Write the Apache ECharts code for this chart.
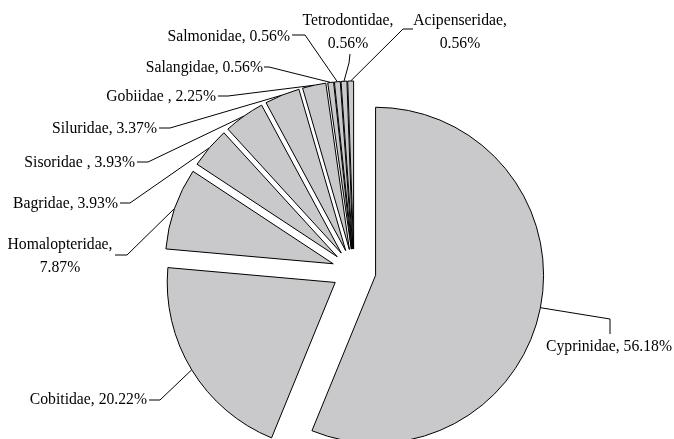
<!DOCTYPE html>
<html>
<head>
<meta charset="utf-8">
<script src="https://cdn.jsdelivr.net/npm/echarts@6/dist/echarts.min.js"></script>
<style>
  html, body { margin: 0; padding: 0; background: #fff; }
  #pie1 { width: 674px; height: 439px; }
</style>
</head>
<body>
<div id="pie1"></div>
<script>
// fish families, share of species (%)
const families = ['Cyprinidae', 'Cobitidae', 'Homalopteridae', 'Bagridae', 'Sisoridae ', 'Siluridae',
  'Gobiidae ', 'Salangidae', 'Salmonidae', 'Tetrodontidae', 'Acipenseridae']
const shares = [56.18, 20.22, 7.87, 3.93, 3.93, 3.37, 2.25, 0.56, 0.56, 0.56, 0.56]
// labels that break onto a second line
const wrapped = ['Homalopteridae', 'Tetrodontidae', 'Acipenseridae']

// where each label sits and how its leader bends (layout only)
const labelSpots = [
  { x: 609, y: 347, align: 'center', elbow: [610, 319], end: [610, 334] },
  { x: 147, y: 400, align: 'right', elbow: [160, 400], end: [149, 400] },
  { x: 60, y: 256, align: 'center', elbow: [127, 255], end: [115, 255] },
  { x: 118, y: 204, align: 'right', elbow: [130, 203], end: [120, 203] },
  { x: 135, y: 163, align: 'right', elbow: [148, 162], end: [137, 162] },
  { x: 157, y: 129, align: 'right', elbow: [170, 128], end: [159, 128] },
  { x: 216, y: 97, align: 'right', elbow: [228, 96], end: [218, 96] },
  { x: 263, y: 68, align: 'right', elbow: [269, 67], end: [264, 67] },
  { x: 290, y: 37, align: 'right', elbow: [305, 35], end: [292, 35] },
  { x: 348, y: 32, align: 'center', elbow: [349, 63], end: [350, 54] },
  { x: 460, y: 32, align: 'center', elbow: [403, 29], end: [413, 29] }
]

const center = [354, 271]
const radius = 168
const explode = 22

const mychart = echarts.init(document.getElementById('pie1'))
const sliceStyle = { color: '#c9c9cb', borderColor: '#000', borderWidth: 1 }

const pieData = function (selected) {
  return families.map(function (name, i) {
    return { name: name, value: shares[i], selected: selected }
  })
}

const data = {
  animation: false,
  series: [{
    // exploded slices
    type: 'pie',
    center: center,
    radius: radius,
    selectedMode: 'multiple',
    selectedOffset: explode,
    silent: true,
    itemStyle: sliceStyle,
    select: { itemStyle: sliceStyle },
    emphasis: { disabled: true },
    label: { show: false },
    labelLine: { show: false },
    data: pieData(true)
  }, {
    // same pie, invisible, carries the labels and leaders
    type: 'pie',
    center: center,
    radius: radius,
    selectedMode: false,
    silent: true,
    avoidLabelOverlap: false,
    itemStyle: { color: 'rgba(0,0,0,0)', borderWidth: 0 },
    emphasis: { disabled: true },
    label: {
      show: true,
      position: 'outside',
      color: '#000',
      fontFamily: 'Liberation Serif',
      fontSize: 15.7,
      lineHeight: 23,
      formatter: function (p) {
        const sep = wrapped.indexOf(p.name) >= 0 ? ',\n' : ', '
        return p.name + sep + p.value.toFixed(2) + '%'
      }
    },
    labelLine: {
      show: true,
      lineStyle: { color: '#000', width: 1 }
    },
    labelLayout: function (params) {
      const s = labelSpots[params.dataIndex]
      // push the leader start out to the exploded slice edge
      const p0 = params.labelLinePoints[0]
      const vx = p0[0] - center[0]
      const vy = p0[1] - center[1]
      const len = Math.sqrt(vx * vx + vy * vy) || 1
      const start = [p0[0] + vx / len * explode, p0[1] + vy / len * explode]
      return {
        x: s.x,
        y: s.y,
        align: s.align,
        verticalAlign: 'middle',
        labelLinePoints: [start, s.elbow, s.end]
      }
    },
    data: pieData(false)
  }]
}
mychart.setOption(data)
</script>
</body>
</html>
